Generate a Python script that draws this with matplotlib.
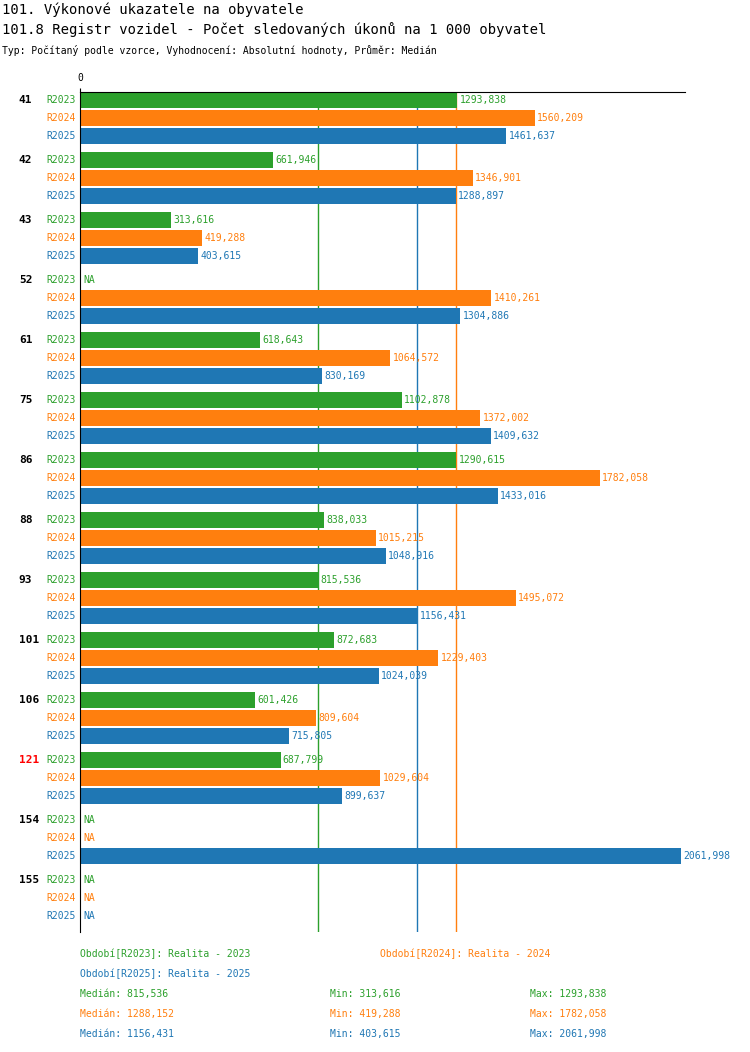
import numpy as np
import matplotlib.pyplot as plt

plt.rcParams['font.family'] = ['DejaVu Sans Mono']

groups = ['41', '42', '43', '52', '61', '75', '86', '88', '93', '101', '106', '121', '154', '155']
series = ['R2023', 'R2024', 'R2025']
colors = ['#2ca02c', '#ff7f0e', '#1f77b4']
nan = np.nan
r2023 = [1293.838, 661.946, 313.616, nan, 618.643, 1102.878, 1290.615, 838.033, 815.536, 872.683, 601.426, 687.799, nan, nan]
r2024 = [1560.209, 1346.901, 419.288, 1410.261, 1064.572, 1372.002, 1782.058, 1015.215, 1495.072, 1229.403, 809.604, 1029.604, nan, nan]
r2025 = [1461.637, 1288.897, 403.615, 1304.886, 830.169, 1409.632, 1433.016, 1048.916, 1156.431, 1024.039, 715.805, 899.637, 2061.998, nan]
values = [r2023, r2024, r2025]
medians = [815.536, 1288.152, 1156.431]
mins = [313.616, 419.288, 403.615]
maxs = [1293.838, 1782.058, 2061.998]
highlight = '121'

W, H = 750, 1052
fig = plt.figure(figsize=(W / 100, H / 100), dpi=100)
ax = fig.add_axes([80 / W, 1 - 932 / H, 605 / W, 840 / H])
ax.set_xlim(0, 2075)
ax.set_ylim(932, 92)

def fmt(v):
    return f'{v:.3f}'.replace('.', ',')

for g, name in enumerate(groups):
    for s in range(3):
        y = 100 + g * 60 + s * 18
        v = values[s][g]
        ax.text(-15, y, series[s], color=colors[s], fontsize=7, ha='right', va='center',
                transform=ax.transData, clip_on=False)
        if np.isnan(v):
            ax.text(10, y, 'NA', color=colors[s], fontsize=7, va='center')
        else:
            ax.barh(y, v, height=16, color=colors[s], zorder=2)
            ax.text(v + 8, y, fmt(v), color=colors[s], fontsize=7, va='center', zorder=3)
    ax.text(-210, 100 + g * 60, name, fontsize=8, fontweight='bold', va='center',
            color='red' if name == highlight else 'black', clip_on=False)

for m, c in zip(medians, colors):
    ax.axvline(m, color=c, lw=1, zorder=1)

for sp in ['right', 'bottom']:
    ax.spines[sp].set_visible(False)
ax.set_yticks([])
ax.set_xticks([0])
ax.xaxis.tick_top()
ax.tick_params(axis='x', labelsize=7, length=3)

def ftext(x, y, s, **kw):
    fig.text(x / W, 1 - y / H, s, va='center', **kw)

ftext(2, 10, '101. Výkonové ukazatele na obyvatele', fontsize=10)
ftext(2, 30, '101.8 Registr vozidel - Počet sledovaných úkonů na 1 000 obyvatel', fontsize=10)
ftext(2, 50, 'Typ: Počítaný podle vzorce, Vyhodnocení: Absolutní hodnoty, Průměr: Medián', fontsize=7)

ftext(80, 954, 'Období[R2023]: Realita - 2023', fontsize=7, color=colors[0])
ftext(380, 954, 'Období[R2024]: Realita - 2024', fontsize=7, color=colors[1])
ftext(80, 974, 'Období[R2025]: Realita - 2025', fontsize=7, color=colors[2])
for i in range(3):
    y = 994 + i * 20
    ftext(80, y, 'Medián: ' + fmt(medians[i]), fontsize=7, color=colors[i])
    ftext(330, y, 'Min: ' + fmt(mins[i]), fontsize=7, color=colors[i])
    ftext(530, y, 'Max: ' + fmt(maxs[i]), fontsize=7, color=colors[i])

fig.savefig('out.png', dpi=100)
